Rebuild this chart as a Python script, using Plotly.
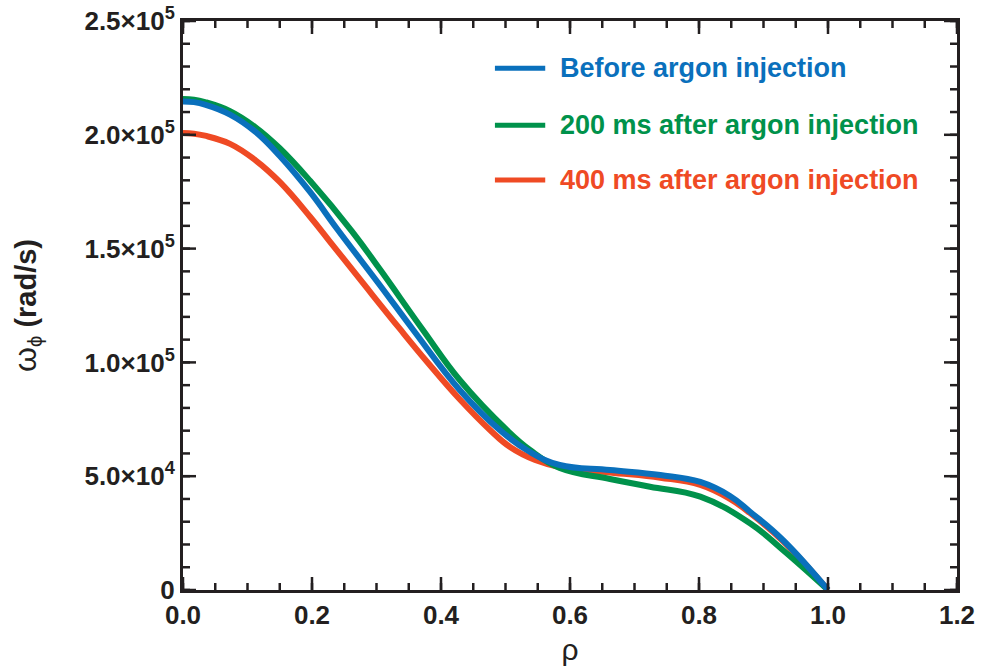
import numpy as np
import plotly.graph_objects as go

# Data (rho, omega_phi in rad/s)
rho_before = [0.0, 0.017, 0.034, 0.073, 0.112, 0.150, 0.197, 0.239, 0.305, 0.357, 0.429, 0.491, 0.538, 0.584, 0.662, 0.740, 0.802, 0.848, 0.879, 0.930, 1.0]
w_before = [214650, 214350, 213300, 208900, 201400, 190700, 174880, 158620, 134020, 114240, 87880, 70300, 60640, 54930, 52730, 50530, 47460, 41300, 34400, 21970, 0]

rho_200 = [0.0, 0.017, 0.034, 0.073, 0.112, 0.150, 0.197, 0.262, 0.305, 0.372, 0.429, 0.502, 0.538, 0.584, 0.662, 0.724, 0.802, 0.879, 0.930, 1.0]
w_200 = [215750, 215450, 214400, 210400, 203400, 194100, 179800, 157600, 141000, 114240, 92270, 70300, 61520, 53610, 48770, 45390, 41000, 29310, 17580, 0]

rho_400 = [0.0, 0.017, 0.034, 0.073, 0.112, 0.150, 0.197, 0.228, 0.282, 0.336, 0.378, 0.429, 0.476, 0.507, 0.546, 0.584, 0.662, 0.740, 0.802, 0.848, 0.879, 0.930, 1.0]
w_400 = [200810, 200500, 199600, 196000, 188900, 179300, 164000, 153000, 133800, 114800, 100400, 83800, 70300, 62830, 57120, 54050, 51630, 49350, 46140, 39990, 33830, 21530, 0]

series_names = ["Before argon injection", "200 ms after argon injection", "400 ms after argon injection"]
series_colors = ["#0A70BC", "#00924B", "#EF4A24"]

y_labels = {"0": "0", "50k": "5.0×10<sup>4</sup>", "100k": "1.0×10<sup>5</sup>",
            "150k": "1.5×10<sup>5</sup>", "200k": "2.0×10<sup>5</sup>", "250k": "2.5×10<sup>5</sup>"}

FONT = "Liberation Sans, Arial, sans-serif"
INK = "#231F20"

W, H = 998, 670
ML, MR, MT, MB = 183, 41, 21, 80
PW, PH = W - ML - MR, H - MT - MB

fig = go.Figure()
data = [(rho_before, w_before), (rho_200, w_200), (rho_400, w_400)]
for i in [2, 1, 0]:
    xs, ys = data[i]
    fig.add_trace(go.Scatter(x=xs, y=ys, mode="lines", name=series_names[i],
                             line=dict(color=series_colors[i], width=6, shape="spline", smoothing=1.2),
                             showlegend=False))

# manual legend
leg_y = [0.917, 0.817, 0.7206]
for i in range(3):
    fig.add_shape(type="line", xref="paper", yref="paper",
                  x0=0.403, x1=0.468, y0=leg_y[i], y1=leg_y[i],
                  line=dict(color=series_colors[i], width=5))
    fig.add_annotation(xref="paper", yref="paper", x=0.484, y=leg_y[i],
                       text="<b>" + series_names[i] + "</b>", showarrow=False,
                       xanchor="left", yanchor="middle",
                       font=dict(family=FONT, size=27, color=series_colors[i]))

# inside tick marks on all four sides (major + minor)
def add_xticks(step, length):
    for v in np.arange(0, 1.2 + 1e-9, step):
        for base, sign in ((0.0, 1), (1.0, -1)):
            fig.add_shape(type="line", xref="x", yref="paper", x0=v, x1=v,
                          y0=base, y1=base + sign * length / PH,
                          line=dict(color=INK, width=2.5))

def add_yticks(step, length):
    for v in np.arange(0, 250000 + 1, step):
        for base, sign in ((0.0, 1), (1.0, -1)):
            fig.add_shape(type="line", xref="paper", yref="y", y0=v, y1=v,
                          x0=base, x1=base + sign * length / PW,
                          line=dict(color=INK, width=2.5))

add_xticks(0.05, 7)
add_xticks(0.2, 13)
add_yticks(10000, 7)
add_yticks(50000, 13)

fig.update_xaxes(range=[0, 1.2], tickmode="linear", tick0=0, dtick=0.2, tickformat=".1f",
                 showline=True, linecolor=INK, linewidth=3, mirror=True,
                 ticks="", showgrid=False, zeroline=False,
                 tickfont=dict(family=FONT, size=26, color=INK, weight="bold"),
                 title=dict(text="ρ", font=dict(family=FONT, size=30, color=INK), standoff=10))
fig.update_yaxes(range=[0, 250000], tickmode="linear", tick0=0, dtick=50000,
                 labelalias=y_labels,
                 showline=True, linecolor=INK, linewidth=3, mirror=True,
                 ticks="", showgrid=False, zeroline=False,
                 tickfont=dict(family=FONT, size=26, color=INK, weight="bold"),
                 title=dict(text="<span style='font-size:32px'>ω</span><sub>ϕ</sub> <b>(rad/s)</b>",
                            font=dict(family=FONT, size=29, color=INK), standoff=40))

fig.update_layout(width=W, height=H, autosize=False,
                  margin=dict(l=ML, r=MR, t=MT, b=MB, autoexpand=False),
                  paper_bgcolor="white", plot_bgcolor="white", showlegend=False)

fig.write_html("out.html")
